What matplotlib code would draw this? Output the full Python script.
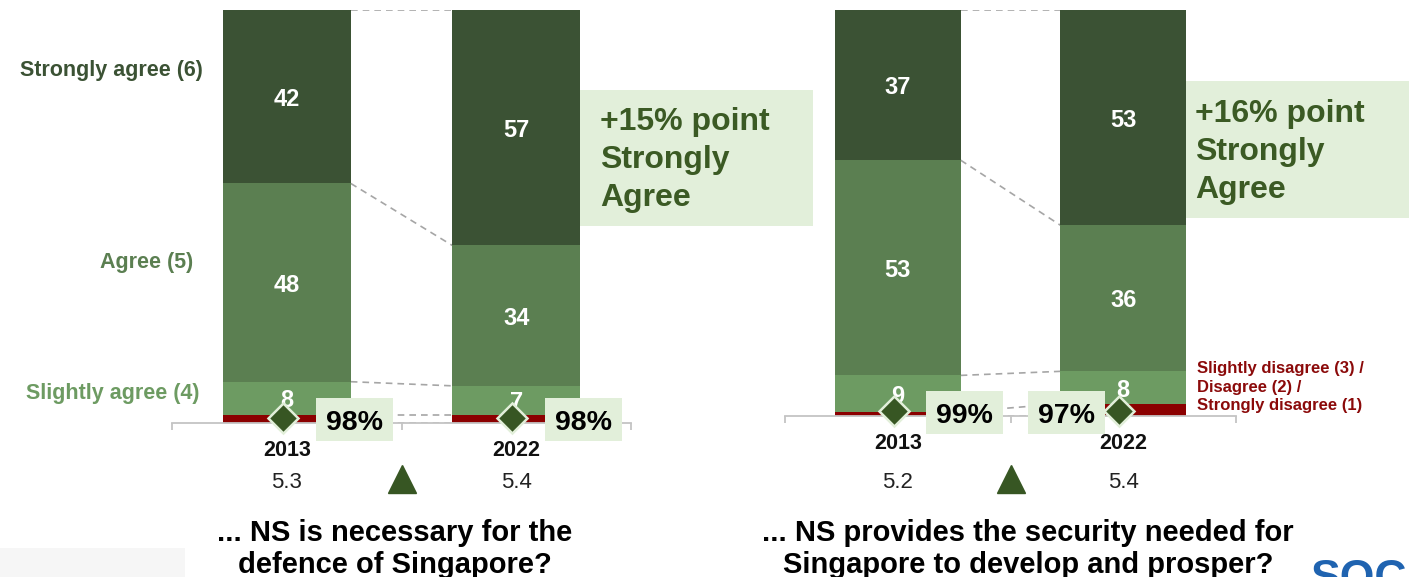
import matplotlib.pyplot as plt
from matplotlib.patches import Rectangle
from matplotlib.lines import Line2D
from matplotlib import transforms

plt.rcParams['font.family'] = ['Liberation Sans', 'DejaVu Sans']

W, H = 1409, 577

years = ['2013', '2022']

# stack order: disagree (1-3), slightly agree (4), agree (5), strongly agree (6)
necessary_disagree = [2, 2]
necessary_slightly = [8, 7]
necessary_agree = [48, 34]
necessary_strongly = [42, 57]
necessary_top3 = ['98%', '98%']
necessary_mean = ['5.3', '5.4']

prosper_disagree = [1, 3]
prosper_slightly = [9, 8]
prosper_agree = [53, 36]
prosper_strongly = [37, 53]
prosper_top3 = ['99%', '97%']
prosper_mean = ['5.2', '5.4']

colors = ['#8b0000', '#6d9b62', '#5b7f51', '#3b5234']
box_green = '#e2efda'
marker_green = '#375623'
text_green = '#3b5a24'

fig = plt.figure(figsize=(W / 100, H / 100), dpi=100)


def px_rect(x0, y0, x1, y1, **kw):
    fig.patches.append(Rectangle((x0 / W, 1 - y1 / H), (x1 - x0) / W, (y1 - y0) / H,
                                 transform=fig.transFigure, **kw))


def px_text(x, y, s, **kw):
    fig.text(x / W, 1 - y / H, s, **kw)


def panel(x0, top, x1, base, stacks, top3, means, box_dx, question, q_x):
    ax = fig.add_axes([x0 / W, 1 - base / H, (x1 - x0) / W, (base - top) / H])
    pos = [0, 1]
    width = 0.558
    bottom = [0, 0]
    levels = [[0, 0]]
    for i, (vals, c) in enumerate(zip(stacks, colors)):
        ax.bar(pos, vals, width, bottom=bottom, color=c, zorder=2)
        if i > 0:
            for p, v, b in zip(pos, vals, bottom):
                ax.text(p, b + v / 2, str(v), ha='center', va='center_baseline',
                        color='white', fontsize=17, fontweight='bold', zorder=3)
        bottom = [b + v for b, v in zip(bottom, vals)]
        levels.append(list(bottom))

    # dashed connectors between the two bars
    for lv in levels:
        ax.plot([width / 2, 1 - width / 2], lv, ls=(0, (4, 3)), color='#a6a6a6',
                lw=1.2, zorder=1)

    ax.set_xlim(-0.5, 1.5)
    ax.set_ylim(0, 100)
    for s in ['top', 'left', 'right']:
        ax.spines[s].set_visible(False)
    ax.spines['bottom'].set_color('#c4c4c4')
    ax.spines['bottom'].set_linewidth(1.3)
    ax.set_xticks([-0.5, 0.5, 1.5])
    ax.set_xticklabels([])
    ax.set_yticks([])
    ax.tick_params(axis='x', length=5, width=1.3, color='#c4c4c4')
    ax.patch.set_alpha(0)

    # top-3 box markers sitting on the baseline
    lift = transforms.offset_copy(ax.transData, fig=fig, x=-3, y=3.5, units='points')
    ax.plot(pos, [0, 0], 'D', ms=15.5, mfc=marker_green, mec=box_green, mew=1.8,
            transform=lift, clip_on=False, zorder=6)

    unit = (x1 - x0) / 2
    for p, yr, pct, m, dx in zip(pos, years, top3, means, box_dx):
        cx = x0 + (p + 0.5) * unit
        bc = base - 4
        px_rect(cx + dx - 38.5, bc - 21.5, cx + dx + 38.5, bc + 21.5,
                facecolor=box_green, edgecolor='none', zorder=5)
        px_text(cx + dx, bc + 11, pct, ha='center', va='baseline', fontsize=20.5,
                fontweight='bold', color='black', zorder=7)
        px_text(cx, base + 25, yr, ha='center', va='center_baseline', fontsize=15.5,
                fontweight='bold', color='#111111')
        px_text(cx, 480, m, ha='center', va='center_baseline', fontsize=16,
                color='#222222')

    fig.add_artist(Line2D([(x0 + x1) / 2 / W], [1 - 479 / H], marker='^', ms=20,
                          color=marker_green, ls='none', transform=fig.transFigure))

    for line, yb in zip(question.split('\n'), [541, 573]):
        px_text(q_x, yb, line, ha='center', va='baseline', fontsize=21,
                fontweight='bold', color='black')
    return ax


panel(172, 10, 631, 423,
      [necessary_disagree, necessary_slightly, necessary_agree, necessary_strongly],
      necessary_top3, necessary_mean, [68, 67],
      '... NS is necessary for the\ndefence of Singapore?', 395)

panel(785, 10, 1236, 416,
      [prosper_disagree, prosper_slightly, prosper_agree, prosper_strongly],
      prosper_top3, prosper_mean, [67, -57],
      '... NS provides the security needed for\nSingapore to develop and prosper?', 1028)

# response scale labels
px_text(203, 76, 'Strongly agree (6)', ha='right', va='baseline', fontsize=15.5,
        fontweight='bold', color=colors[3])
px_text(193, 268, 'Agree (5)', ha='right', va='baseline', fontsize=15.5,
        fontweight='bold', color=colors[2])
px_text(200, 399, 'Slightly agree (4)', ha='right', va='baseline', fontsize=15.5,
        fontweight='bold', color=colors[1])
for line, yb in zip(['Slightly disagree (3) /', 'Disagree (2) /', 'Strongly disagree (1)'],
                    [373, 392, 410]):
    px_text(1197, yb, line, ha='left', va='baseline', fontsize=12, fontweight='bold',
            color='#8b0a0a')

# change call-outs
px_rect(580, 90, 813, 226, facecolor=box_green, edgecolor='none')
for line, yb in zip(['+15% point', 'Strongly', 'Agree'], [130, 168, 206]):
    px_text(600, yb, line, ha='left', va='baseline', fontsize=23, fontweight='bold',
            color=text_green)
px_rect(1186, 81, 1409, 218, facecolor=box_green, edgecolor='none')
for line, yb in zip(['+16% point', 'Strongly', 'Agree'], [122, 160, 198]):
    px_text(1195, yb, line, ha='left', va='baseline', fontsize=23, fontweight='bold',
            color=text_green)

# footer strip and logo text running off the bottom edge
px_rect(0, 548, 185, 577, facecolor='#f6f6f6', edgecolor='none')
px_text(1311, 559, 'SOC', ha='left', va='top', fontsize=32, fontweight='bold',
        color='#1f63b0')

fig.savefig('out.png', dpi=100)
